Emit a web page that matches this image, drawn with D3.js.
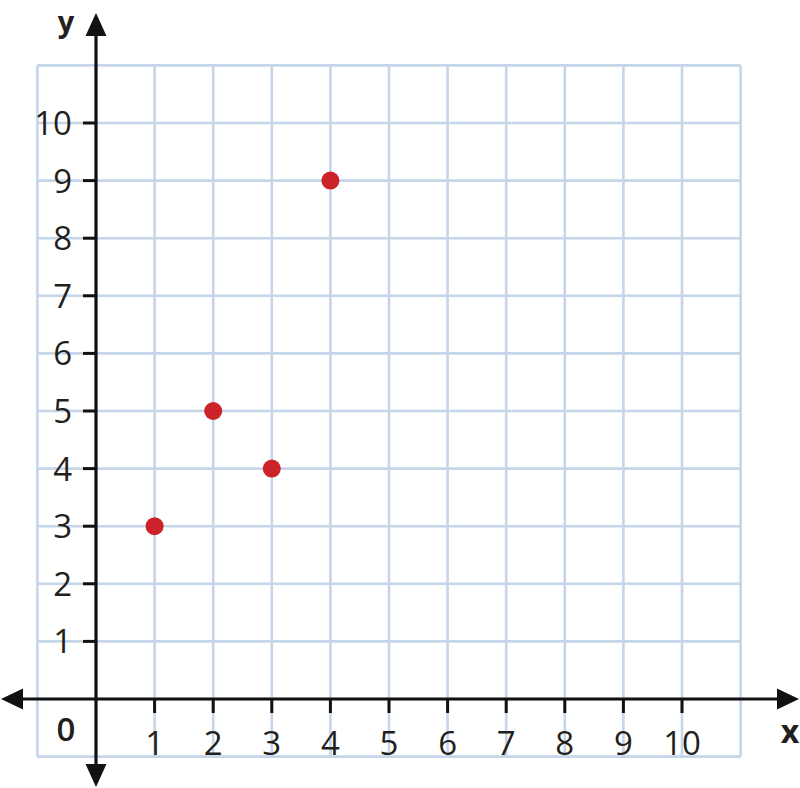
<!DOCTYPE html>
<html><head><meta charset="utf-8">
<script src="https://cdn.jsdelivr.net/npm/d3@7/dist/d3.min.js"></script>
<style>html,body{margin:0;padding:0;background:#fff;}</style>
</head><body>
<script>
const xTicks = [1,2,3,4,5,6,7,8,9,10];
const yTicks = [1,2,3,4,5,6,7,8,9,10];
const pointX = [1,2,3,4];
const pointY = [3,5,4,9];

const W = 800, H = 788;
const svg = d3.select("body").append("svg").attr("width", W).attr("height", H);
const x = d3.scaleLinear().domain([0, 10]).range([96, 682]);
const y = d3.scaleLinear().domain([0, 10]).range([699, 123]);
const font = "'Open Sans', 'Noto Sans', sans-serif";
const gridC = "#c5d5ea";
const ink = "#231f20";

// grid
const gx = d3.range(-1, 12);
const g = svg.append("g");
g.selectAll("line.v").data(gx).join("line")
  .attr("x1", d => x(d)).attr("x2", d => x(d))
  .attr("y1", y(11)).attr("y2", y(-1))
  .attr("stroke", gridC).attr("stroke-width", 2.6);
g.selectAll("line.h").data(gx).join("line")
  .attr("y1", d => y(d)).attr("y2", d => y(d))
  .attr("x1", x(-1)).attr("x2", x(11))
  .attr("stroke", gridC).attr("stroke-width", 2.6);

// axes
const ax = svg.append("g");
ax.append("line").attr("x1", 20).attr("x2", 780).attr("y1", y(0)).attr("y2", y(0))
  .attr("stroke", "#111").attr("stroke-width", 3.2);
ax.append("line").attr("x1", x(0)).attr("x2", x(0)).attr("y1", 34).attr("y2", 766)
  .attr("stroke", "#111").attr("stroke-width", 3.2);
const cx0 = x(0), cy0 = y(0);
const arrows = [
  [[cx0, 13], [cx0 - 10.5, 36], [cx0 + 10.5, 36]],
  [[cx0, 787], [cx0 - 10.5, 764], [cx0 + 10.5, 764]],
  [[1, cy0], [23, cy0 - 10.5], [23, cy0 + 10.5]],
  [[799, cy0], [777, cy0 - 10.5], [777, cy0 + 10.5]]
];
ax.selectAll("path.arrow").data(arrows).join("path")
  .attr("d", d => "M" + d.map(p => p.join(",")).join("L") + "Z")
  .attr("fill", "#111");

// ticks
ax.selectAll("line.xt").data(xTicks).join("line")
  .attr("x1", d => x(d)).attr("x2", d => x(d))
  .attr("y1", cy0).attr("y2", cy0 + 14)
  .attr("stroke", "#111").attr("stroke-width", 3);
ax.selectAll("line.yt").data(yTicks).join("line")
  .attr("y1", d => y(d)).attr("y2", d => y(d))
  .attr("x1", cx0 - 13).attr("x2", cx0)
  .attr("stroke", "#111").attr("stroke-width", 3);

// tick labels
svg.selectAll("text.xl").data(xTicks).join("text")
  .attr("x", d => x(d)).attr("y", 755)
  .attr("text-anchor", "middle")
  .attr("font-family", font).attr("font-size", 33).attr("fill", ink)
  .text(d => d);
svg.selectAll("text.yl").data(yTicks).join("text")
  .attr("x", 72).attr("y", d => y(d) + 12)
  .attr("text-anchor", "end")
  .attr("font-family", font).attr("font-size", 33).attr("fill", ink)
  .text(d => d);
svg.append("text").attr("x", 66).attr("y", 741).attr("text-anchor", "middle")
  .attr("font-family", font).attr("font-size", 33).attr("font-weight", 600).attr("fill", ink).text("0");
svg.append("text").attr("x", 66).attr("y", 32).attr("text-anchor", "middle")
  .attr("font-family", font).attr("font-size", 29).attr("font-weight", 700).attr("fill", ink).text("y");
svg.append("text").attr("x", 790).attr("y", 743).attr("text-anchor", "middle")
  .attr("font-family", font).attr("font-size", 32).attr("font-weight", 700).attr("fill", ink).text("x");

// points
svg.selectAll("circle").data(pointX.map((d, i) => [d, pointY[i]])).join("circle")
  .attr("cx", d => x(d[0])).attr("cy", d => y(d[1]))
  .attr("r", 9).attr("fill", "#cc2229");
</script>
</body></html>
